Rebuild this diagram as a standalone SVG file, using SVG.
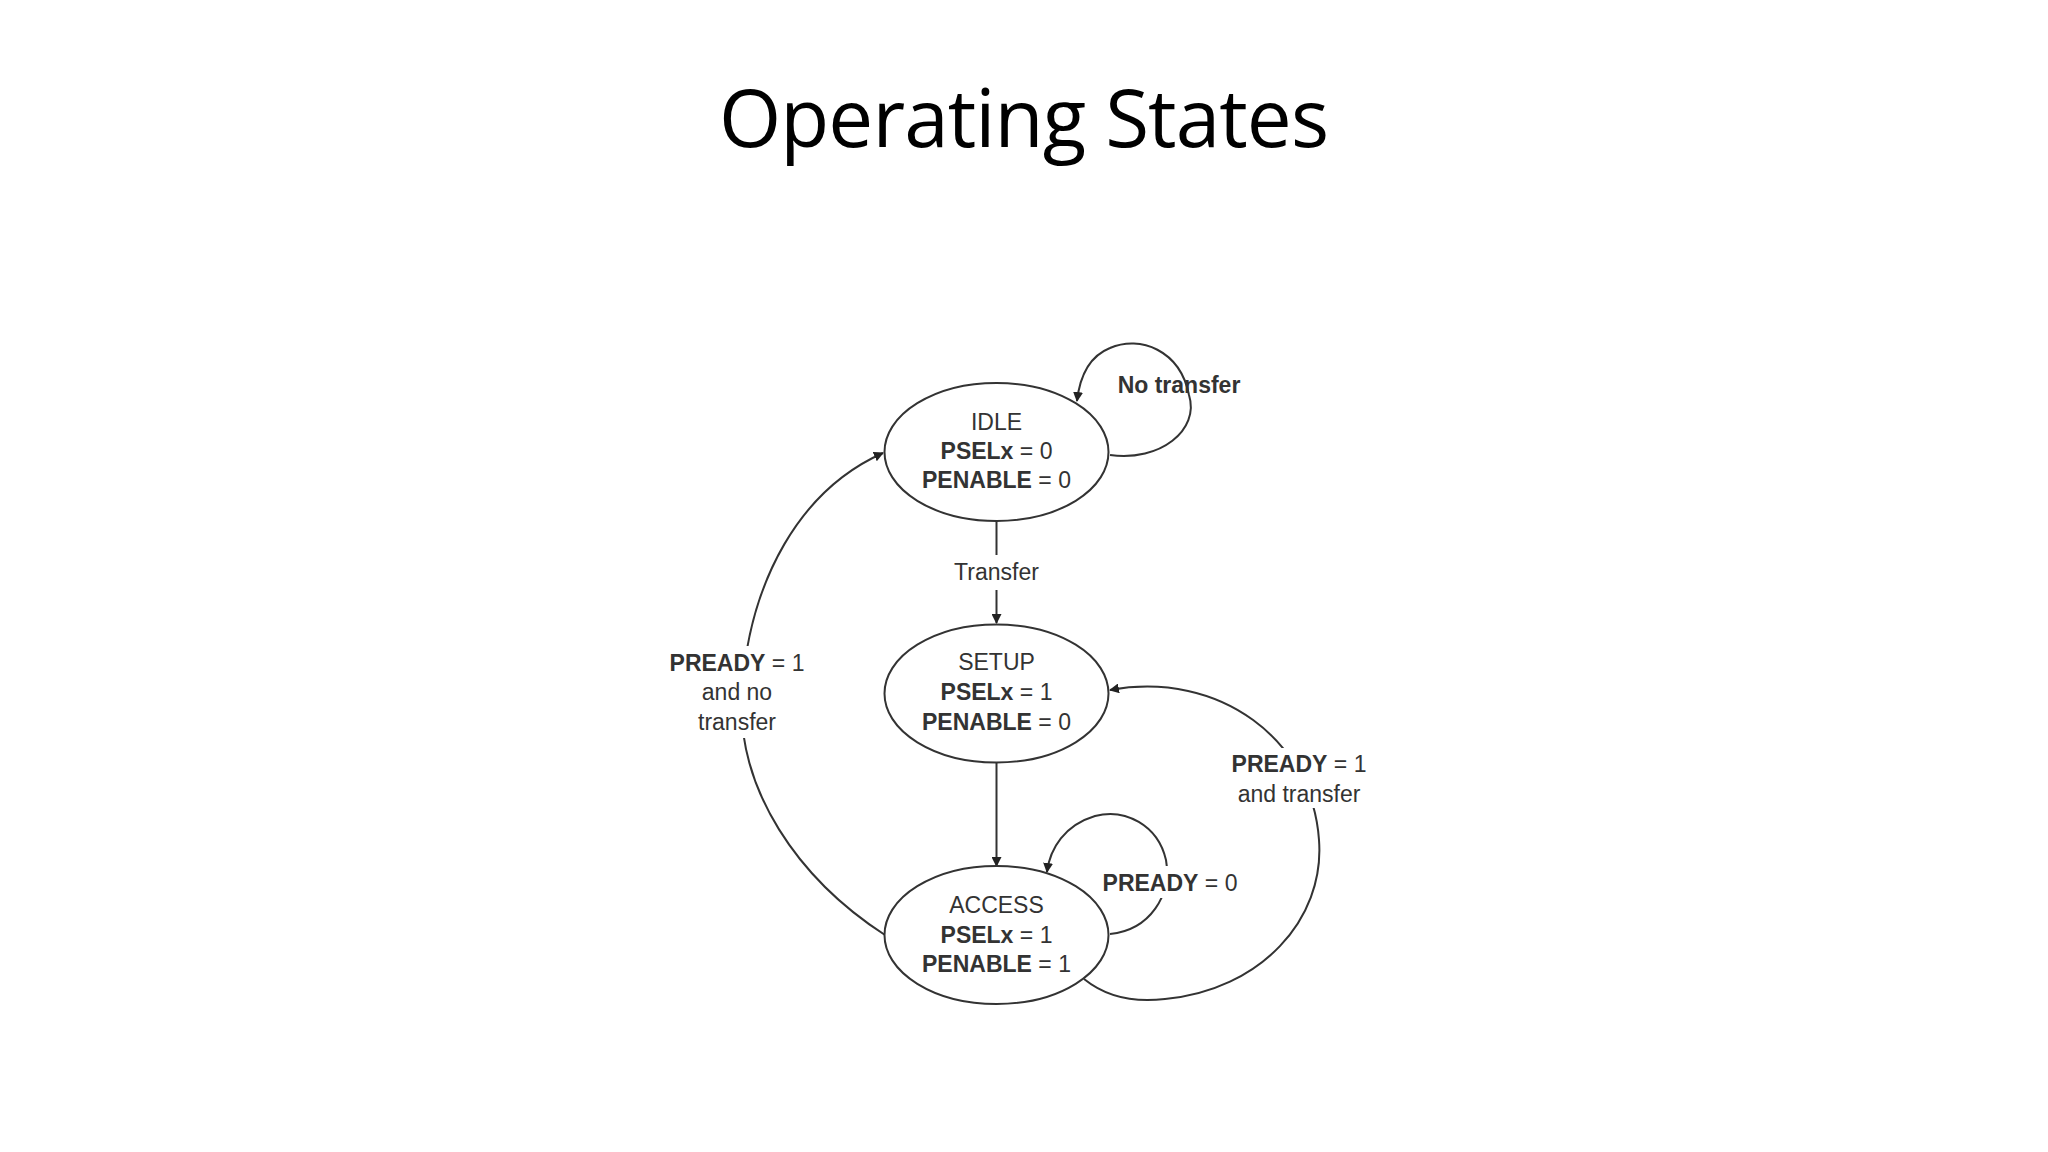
<svg xmlns="http://www.w3.org/2000/svg" width="2048" height="1152" viewBox="0 0 2048 1152">
<defs>
<marker id="ah" viewBox="0 0 10 10" refX="9" refY="5" markerWidth="10" markerHeight="10" markerUnits="userSpaceOnUse" orient="auto"><path d="M0,0 L10,5 L0,10 z" fill="#222"/></marker>
<style>
.st{fill:#fff;stroke:#333;stroke-width:2}
.t{font-family:"Liberation Sans",Arial,sans-serif;font-size:23px;fill:#333;text-anchor:middle}
.b{font-weight:bold}
.c{fill:none;stroke:#333;stroke-width:2}
.a{marker-end:url(#ah)}
.bg{fill:#fff}
</style>
</defs>
<rect width="2048" height="1152" fill="#fff"/>
<text x="1024" y="147" font-family="'Open Sans','Noto Sans',sans-serif" font-size="80" text-anchor="middle" fill="#000" textLength="610">Operating States</text>
<g id="connectors">
<path class="c" d="M996.5,521 V555"/>
<path class="c a" d="M996.5,590 V623"/>
<path class="c a" d="M996.5,763 V866"/>
<path class="c a" d="M1110,455 C1160,462 1200,430 1189,395 C1180,350 1140,335 1110,348 C1090,356 1080,375 1077,401"/>
<path class="c a" d="M1110,934 C1150,930 1172,895 1166,860 C1158,825 1125,808 1095,816 C1065,825 1050,848 1047,872"/>
<path class="c a" d="M1084,979 C1110,1000 1140,1002 1165,999 C1260,990 1325,920 1319,840 C1312,740 1220,670 1110,690"/>
<path class="c a" d="M885,935 C800,880 735,790 742,690 C750,580 800,490 883,453"/>
<text class="t" x="996.5" y="580">Transfer</text>
<text class="t b" x="1179" y="393">No transfer</text>
<rect class="bg" x="1098" y="866" width="146" height="32"/>
<text class="t" x="1170" y="891"><tspan class="b">PREADY</tspan> = 0</text>
<rect class="bg" x="1225" y="748" width="150" height="60"/>
<text class="t" x="1299" y="772"><tspan class="b">PREADY</tspan> = 1</text>
<text class="t" x="1299" y="802">and transfer</text>
<rect class="bg" x="662" y="646" width="150" height="92"/>
<text class="t" x="737" y="671"><tspan class="b">PREADY</tspan> = 1</text>
<text class="t" x="737" y="700">and  no</text>
<text class="t" x="737" y="730">transfer</text>
</g>
<g id="idle">
<ellipse class="st" cx="996.5" cy="452" rx="112" ry="69"/>
<text class="t" x="996.5" y="430">IDLE</text>
<text class="t" x="996.5" y="459"><tspan class="b">PSELx</tspan> = 0</text>
<text class="t" x="996.5" y="488"><tspan class="b">PENABLE</tspan> = 0</text>
</g>
<g id="setup">
<ellipse class="st" cx="996.5" cy="693.5" rx="112" ry="69"/>
<text class="t" x="996.5" y="670">SETUP</text>
<text class="t" x="996.5" y="700"><tspan class="b">PSELx</tspan> = 1</text>
<text class="t" x="996.5" y="730"><tspan class="b">PENABLE</tspan> = 0</text>
</g>
<g id="access">
<ellipse class="st" cx="996.5" cy="935" rx="112" ry="69"/>
<text class="t" x="996.5" y="913">ACCESS</text>
<text class="t" x="996.5" y="943"><tspan class="b">PSELx</tspan> = 1</text>
<text class="t" x="996.5" y="972"><tspan class="b">PENABLE</tspan> = 1</text>
</g>
</svg>
